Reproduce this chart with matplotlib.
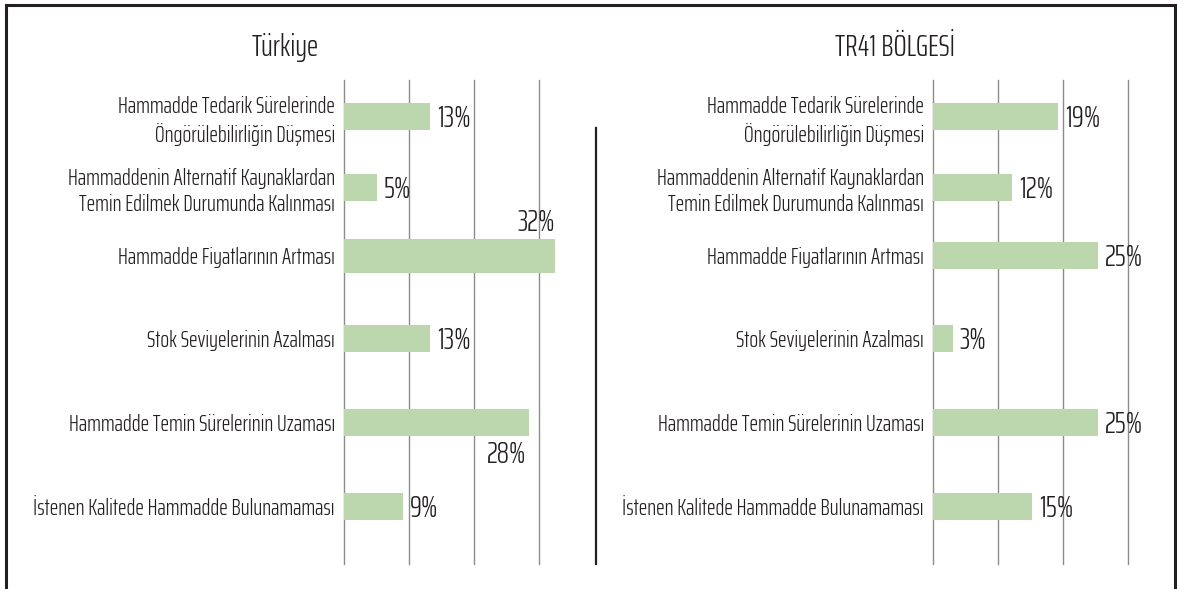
import matplotlib.pyplot as plt
from matplotlib.lines import Line2D

# survey shares (%) per problem, Türkiye vs TR41 region
categories = [
    "Hammadde Tedarik Sürelerinde\nÖngörülebilirliğin Düşmesi",
    "Hammaddenin Alternatif Kaynaklardan\nTemin Edilmek Durumunda Kalınması",
    "Hammadde Fiyatlarının Artması",
    "Stok Seviyelerinin Azalması",
    "Hammadde Temin Sürelerinin Uzaması",
    "İstenen Kalitede Hammadde Bulunamaması",
]
turkiye = [13, 5, 32, 13, 28, 9]
tr41 = [19, 12, 25, 3, 25, 15]
titles = ["Türkiye", "TR41 BÖLGESİ"]

# layout (rows are not evenly spaced in the layout)
row_pos = [0, 0.90, 1.77, 2.82, 3.88, 4.95]
left_heights = [0.34, 0.34, 0.43, 0.34, 0.34, 0.34]
right_heights = [0.34] * 6
left_sides = ["right", "right", "above", "right", "below", "right"]
right_sides = ["right"] * 6

plt.rcParams['font.family'] = ['Saira ExtraCondensed', 'DejaVu Sans']
plt.rcParams['font.weight'] = 300
ink = '#231f20'
bar_color = '#bcd7ad'
grid_color = '#8c8c8c'

W, H = 1177, 589
fig = plt.figure(figsize=(W / 100, H / 100), dpi=100)


def axes_px(x0, y_top, x1, y_bot):
    return fig.add_axes([x0 / W, 1 - y_bot / H, (x1 - x0) / W, (y_bot - y_top) / H])


def draw_panel(ax, values, heights, sides, title, title_x):
    # 6.6 px per percentage point
    ax.set_xlim(0, 236 / 6.6)
    ax.set_ylim(5.68, -0.46)
    for gx in [0, 9.85, 19.7, 29.55]:
        ax.axvline(gx, color=grid_color, lw=1.0, zorder=0, clip_on=False)
    ax.barh(row_pos, values, height=heights, color=bar_color, zorder=2)
    for i, (y, v, side) in enumerate(zip(row_pos, values, sides)):
        txt = f"{v}%"
        if side == "right":
            ax.annotate(txt, (v, y), xytext=(5, -1.5), textcoords='offset points',
                        ha='left', va='center', fontsize=22, color=ink)
        elif side == "above":
            ax.annotate(txt, (v, y - heights[i] / 2), xytext=(0, 1),
                        textcoords='offset points', ha='right', va='bottom',
                        fontsize=22, color=ink)
        else:
            ax.annotate(txt, (v, y + heights[i] / 2), xytext=(-1.5, -3),
                        textcoords='offset points', ha='right', va='top',
                        fontsize=22, color=ink)
    ax.set_xticks([])
    ax.set_yticks(row_pos, labels=categories)
    ax.tick_params(axis='y', length=0, pad=6.5, labelsize=16.6, labelcolor=ink)
    for t in ax.get_yticklabels():
        t.set_linespacing(1.3)
    for s in ax.spines.values():
        s.set_visible(False)
    fig.text(title_x / W, 1 - 47 / H, title, ha='center', va='center',
             fontsize=22, color=ink)


ax1 = axes_px(344, 80, 580, 564)
ax2 = axes_px(933, 80, 1169, 564)
draw_panel(ax1, turkiye, left_heights, left_sides, titles[0], 285)
draw_panel(ax2, tr41, right_heights, right_sides, titles[1], 895)

# divider between the two panels
fig.add_artist(Line2D([596 / W, 596 / W], [1 - 128 / H, 1 - 564 / H],
                      color=ink, lw=1.6))

# outer frame: left, top, right
fig.add_artist(Line2D([5.5 / W, 5.5 / W, 1175 / W, 1175 / W],
                      [0, 1 - 4.5 / H, 1 - 4.5 / H, 0],
                      color=ink, lw=2.2, solid_joinstyle='miter'))

fig.savefig("out.png", dpi=100, facecolor='white')
